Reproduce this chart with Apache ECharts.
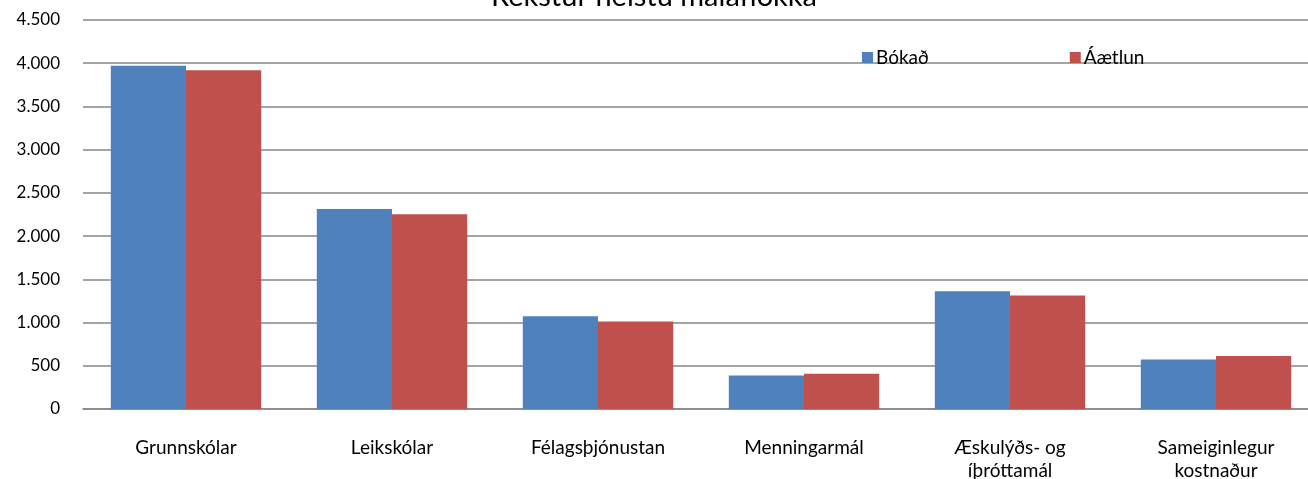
<!DOCTYPE html>
<html>
<head>
<meta charset="utf-8">
<script src="https://cdn.jsdelivr.net/npm/echarts@6/dist/echarts.min.js"></script>
<style>
  html, body { margin: 0; padding: 0; background: #fff; }
  #chart { width: 1308px; height: 479px; }
</style>
</head>
<body>
<div id="chart"></div>
<script>
// data
const categories = ['Grunnskólar', 'Leikskólar', 'Félagsþjónustan', 'Menningarmál', 'Æskulýðs- og\níþróttamál', 'Sameiginlegur\nkostnaður'];
const bokad = [3972, 2313, 1074, 388, 1363, 573];
const aaetlun = [3918, 2252, 1012, 408, 1312, 612];
const yTicks = [0, 500, 1000, 1500, 2000, 2500, 3000, 3500, 4000, 4500];

const font = 'Lato, "Open Sans", sans-serif';

function fmt(v) {
  return String(v).replace(/\B(?=(\d{3})+(?!\d))/g, '.');
}

let myChart = echarts.init(document.getElementById('chart'));
let option = {
  animation: false,
  title: {
    text: 'Rekstur helstu málaflokka',
    left: 'center',
    top: -23,
    textStyle: { fontFamily: font, fontSize: 29, fontWeight: 'normal', color: '#000' }
  },
  legend: {
    data: ['Bókað', 'Áætlun'],
    left: 857,
    top: 43,
    itemWidth: 11,
    itemHeight: 11,
    itemGap: 141,
    icon: 'rect',
    textStyle: { fontFamily: font, fontSize: 19, color: '#000', padding: [0, 0, 0, -2] }
  },
  // plot runs a little past the right edge in the original
  grid: { left: 83, width: 1236, top: 20, bottom: 70, containLabel: false, outerBoundsMode: 'none' },
  xAxis: {
    type: 'category',
    data: categories,
    axisTick: { show: false },
    axisLine: { lineStyle: { color: '#868686', width: 1.5 } },
    axisLabel: {
      fontFamily: font, fontSize: 19, color: '#000', margin: 27, lineHeight: 23, interval: 0
    }
  },
  yAxis: {
    type: 'value',
    min: yTicks[0],
    max: yTicks[yTicks.length - 1],
    interval: 500,
    axisLine: { show: false },
    axisTick: { show: false },
    axisLabel: { fontFamily: font, fontSize: 17, color: '#000', margin: 23, formatter: fmt },
    splitLine: { lineStyle: { color: '#868686', width: 1.5 } }
  },
  series: [
    {
      name: 'Bókað',
      type: 'bar',
      barGap: '0%',
      barCategoryGap: '27%',
      itemStyle: { color: '#4F81BD' },
      data: bokad
    },
    {
      name: 'Áætlun',
      type: 'bar',
      itemStyle: { color: '#C0504D' },
      data: aaetlun
    }
  ]
};
myChart.setOption(option);
</script>
</body>
</html>
